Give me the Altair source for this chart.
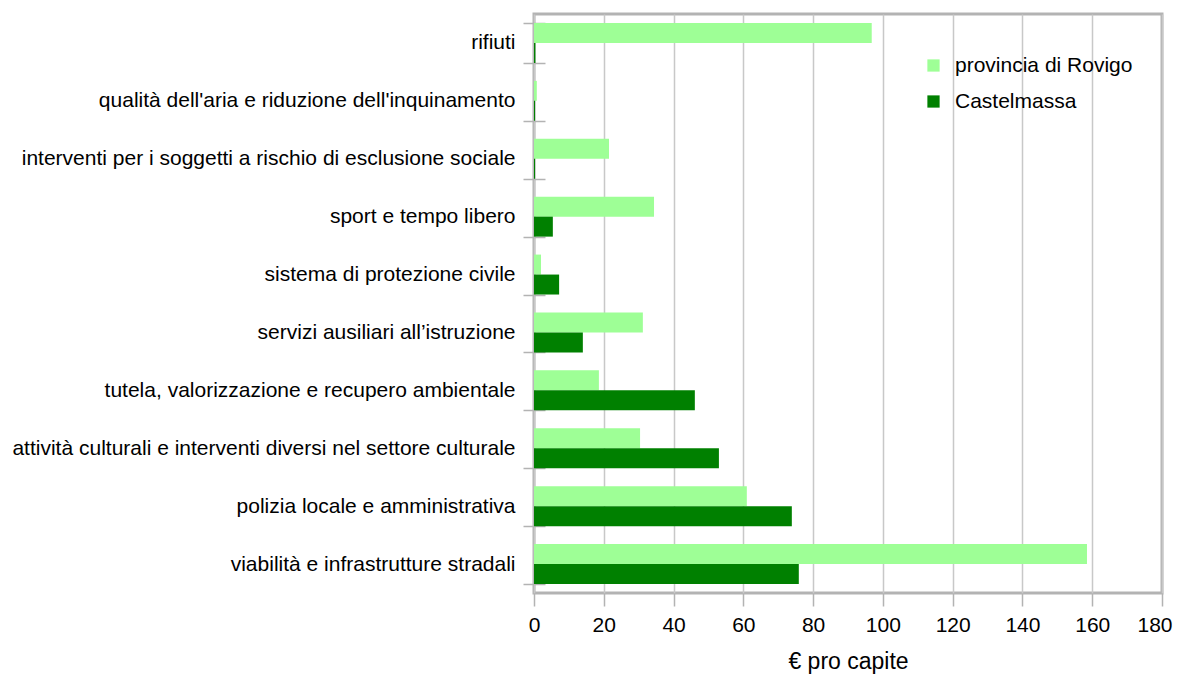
import altair as alt
import pandas as pd

categories = [
    "rifiuti",
    "qualità dell'aria e riduzione dell'inquinamento",
    "interventi per i soggetti a rischio di esclusione sociale",
    "sport e tempo libero",
    "sistema di protezione civile",
    "servizi ausiliari all’istruzione",
    "tutela, valorizzazione e recupero ambientale",
    "attività culturali e interventi diversi nel settore culturale",
    "polizia locale e amministrativa",
    "viabilità e infrastrutture stradali",
]
series = ["provincia di Rovigo", "Castelmassa"]
provincia = [96.8, 0.8, 21.5, 34.4, 2.0, 31.2, 18.6, 30.4, 61.0, 158.5]
castelmassa = [0.4, 0.3, 0.3, 5.4, 7.2, 14.0, 46.1, 53.0, 73.9, 75.9]
colors = ["#9eff96", "#008000"]
x_ticks = [0, 20, 40, 60, 80, 100, 120, 140, 160, 180]

rows = []
for c, p, k in zip(categories, provincia, castelmassa):
    rows.append({"cat": c, "serie": series[0], "val": p})
    rows.append({"cat": c, "serie": series[1], "val": k})
df = pd.DataFrame(rows)

FONT = "Liberation Sans"
FS = 21

yscale = alt.Scale(domain=categories, paddingInner=0.31, paddingOuter=0.155)

xenc = alt.X("val:Q", scale=alt.Scale(domain=[0, 180], nice=False),
             axis=alt.Axis(title="€ pro capite", values=x_ticks, titleFont=FONT, titleFontSize=23,
                           titleFontWeight="normal", titleColor="#000000", labelFont=FONT,
                           labelFontSize=FS, labelColor="#000000", labelFlush=False,
                           labelAlign={"condition": {"test": "datum.value == 180", "value": "right"},
                                       "value": "center"},
                           labelOffset={"condition": {"test": "datum.value == 180", "value": 10},
                                        "value": 0},
                           gridColor="#c8c8c8", gridWidth=1.5,
                           tickColor="#b3b3b3", tickSize=13, tickWidth=1.5, domain=False,
                           labelPadding=8, titlePadding=15))

bars = alt.Chart(df).mark_bar().encode(
    y=alt.Y("cat:N", sort=categories, scale=yscale,
            axis=alt.Axis(title=None, orient="left", labelFont=FONT, labelFontSize=FS,
                          labelColor="#000000", labelLimit=700, tickBand="extent", tickSize=11,
                          tickColor="#b3b3b3", tickWidth=1.5, domain=False, labelPadding=8)),
    yOffset=alt.YOffset("serie:N", sort=series, scale=alt.Scale(domain=series, paddingInner=0, paddingOuter=0)),
    x=xenc,
    color=alt.Color("serie:N", sort=series, scale=alt.Scale(domain=series, range=colors),
                    legend=alt.Legend(title=None, orient="none", legendX=389, legendY=41,
                                      symbolType="square", symbolSize=150, symbolStrokeWidth=0,
                                      labelFont=FONT, labelFontSize=FS, labelColor="#000000",
                                      labelLimit=400, labelOffset=11, rowPadding=14)),
)

inner_ticks = alt.Chart(df).mark_bar(opacity=0).encode(
    y=alt.Y("cat:N", sort=categories, scale=yscale,
            axis=alt.Axis(title=None, orient="left", labels=False, tickBand="extent", tickSize=11,
                          tickColor="#b3b3b3", tickWidth=1.5, domain=False, offset=-11,
                          grid=False)),
    x=xenc,
)

chart = alt.layer(bars, inner_ticks).resolve_axis(y="independent").properties(
    width=628, height=579,
    autosize=alt.AutoSizeParams(type="none"),
    padding={"left": 526, "top": 6, "right": 11, "bottom": 90},
).configure_view(stroke="#b3b3b3", strokeWidth=3).configure_axisX(titleFontSize=23)

chart.save("out.html", embed_options={"renderer": "svg", "actions": False})
